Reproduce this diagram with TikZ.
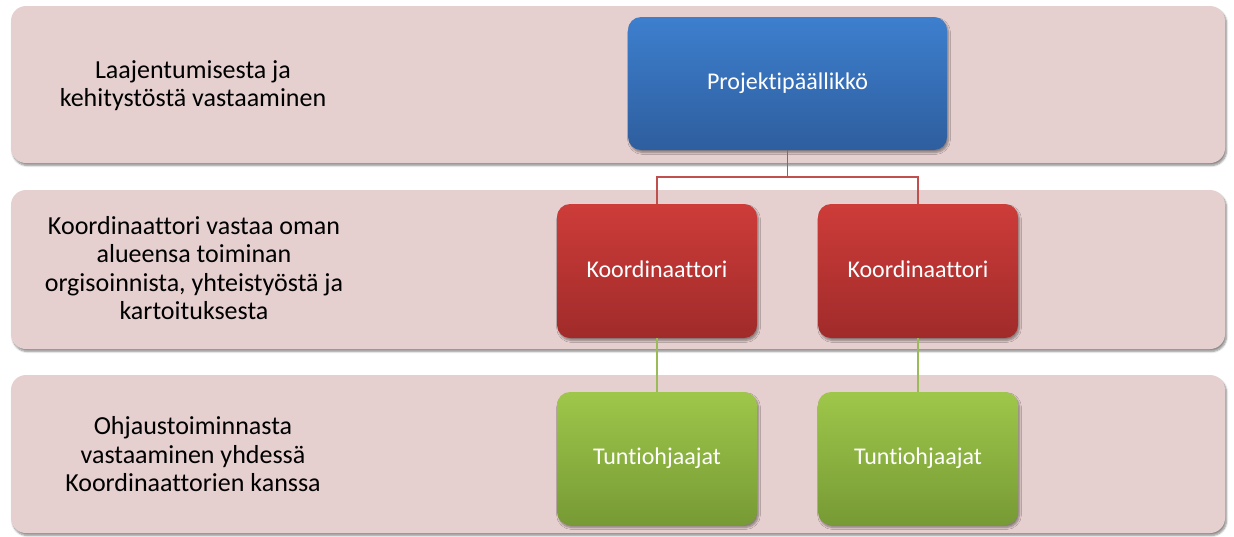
\documentclass[tikz,border=0pt]{standalone}
\usepackage{fontspec}
\setmainfont{Carlito}[Ligatures=NoCommon]
\usetikzlibrary{shadows.blur}
\definecolor{bandfill}{HTML}{E6CFCF}
\definecolor{bluetop}{HTML}{3D7FCE}
\definecolor{bluebot}{HTML}{2E5E9E}
\definecolor{redtop}{HTML}{CD3C39}
\definecolor{redbot}{HTML}{A02B2A}
\definecolor{greentop}{HTML}{9EC74A}
\definecolor{greenbot}{HTML}{779A35}
\definecolor{redline}{HTML}{C0504D}
\definecolor{greenline}{HTML}{9BBB59}
\tikzset{
  band/.style={rectangle, rounded corners=15pt, fill=bandfill, minimum width=1214pt,
    blur shadow={shadow xshift=1.5pt, shadow yshift=-2.5pt, shadow blur steps=6, shadow opacity=45}},
  orgbox/.style={rectangle, rounded corners=13pt, text=white, font=\fontsize{24}{28}\selectfont,
    text height=16pt, text depth=4pt,
    blur shadow={shadow xshift=1.5pt, shadow yshift=-2.5pt, shadow blur steps=6, shadow opacity=40}},
  bluebox/.style={orgbox, top color=bluetop, bottom color=bluebot, minimum width=319pt, minimum height=133pt},
  redbox/.style={orgbox, top color=redtop, bottom color=redbot, minimum width=200pt, minimum height=134pt},
  greenbox/.style={orgbox, top color=greentop, bottom color=greenbot, minimum width=200pt, minimum height=133pt},
  lefttext/.style={align=center, font=\fontsize{26}{28.5}\selectfont, text=black, inner sep=0pt},
  redconn/.style={draw=redline, line width=1.5pt},
  greenconn/.style={draw=greenline, line width=1.5pt}
}
\begin{document}
\begin{tikzpicture}[x=1pt,y=-1pt]
\useasboundingbox (0,0) rectangle (1234,536);
\node[band, minimum height=157pt] (b1) at (618,84.5) {};
\node[band, minimum height=159pt] (b2) at (618,269.5) {};
\node[band, minimum height=158pt] (b3) at (618,454) {};

\node[lefttext] (t1) at (193,86.8) {\strut Laajentumisesta ja\\kehitystöstä vastaaminen\strut};
\node[lefttext] (t2) at (194,271.3) {\strut Koordinaattori vastaa oman\\alueensa toiminan\\orgisoinnista, yhteistyöstä ja\\kartoituksesta\strut};
\node[lefttext] (t3) at (193,457.6) {\strut Ohjaustoiminnasta\\vastaaminen yhdessä\\Koordinaattorien kanssa\strut};

\node[bluebox] (pp) at (787.5,83.5) {Projektipäällikkö};
\node[redbox] (k1) at (657,271) {Koordinaattori};
\node[redbox] (k2) at (918,271) {Koordinaattori};
\node[greenbox] (g1) at (657,458.5) {Tuntiohjaajat};
\node[greenbox] (g2) at (918,458.5) {Tuntiohjaajat};

\coordinate (mid) at (787.5,177);
\draw[redconn] (pp.south) -- (mid) -| (k1.north);
\draw[redconn] (mid) -| (k2.north);
\draw[greenconn] (k1.south) -- (g1.north);
\draw[greenconn] (k2.south) -- (g2.north);
\end{tikzpicture}
\end{document}
